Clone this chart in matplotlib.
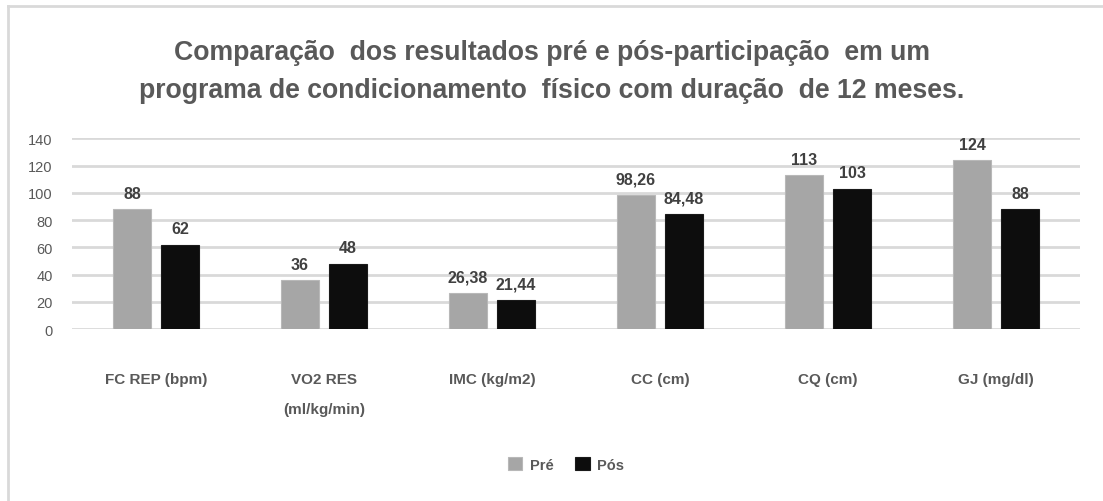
import numpy as np
import matplotlib
matplotlib.use('Agg')
import matplotlib.pyplot as plt
from matplotlib.lines import Line2D

plt.rcParams['font.family'] = ['Liberation Sans', 'DejaVu Sans']

categories = ['FC REP (bpm)', 'VO2 RES\n(ml/kg/min)', 'IMC (kg/m2)', 'CC (cm)', 'CQ (cm)', 'GJ (mg/dl)']
pre = [88, 36, 26.38, 98.26, 113, 124]
pos = [62, 48, 21.44, 84.48, 103, 88]
pre_labels = ['88', '36', '26,38', '98,26', '113', '124']
pos_labels = ['62', '48', '21,44', '84,48', '103', '88']
yticks = [0, 20, 40, 60, 80, 100, 120, 140]
title = ('Comparação  dos resultados pré e pós-participação  em um\n'
         'programa de condicionamento  físico com duração  de 12 meses.')

grey_txt = '#595959'
c_pre = '#a6a6a6'
c_pos = '#0d0d0d'

fig = plt.figure(figsize=(11.03, 5.02), dpi=100)
ax = fig.add_axes([0.0653, 0.3426, 0.9139, 0.3799])

x = np.arange(len(categories))
w = 0.228
off = 0.143
b1 = ax.bar(x - off, pre, w, color=c_pre, edgecolor='#b8b8b8', linewidth=0.8, label='Pré', zorder=3)
b2 = ax.bar(x + off, pos, w, color=c_pos, edgecolor='#1a1a1a', linewidth=0.8, label='Pós', zorder=3)

for bars, labs in ((b1, pre_labels), (b2, pos_labels)):
    for r, t in zip(bars, labs):
        ax.annotate(t, (r.get_x() + r.get_width() / 2, r.get_height()),
                    xytext=(0, 6), textcoords='offset points',
                    ha='center', va='bottom', fontsize=11.5, fontweight='bold', color='#404040')

ax.set_xlim(-0.5, len(categories) - 0.5)
ax.set_ylim(0, 140)
ax.set_yticks(yticks)
ax.tick_params(axis='y', length=0, pad=14, labelsize=10.5, labelcolor=grey_txt)
ax.set_xticks([])
ax.grid(axis='y', color='#d9d9d9', linewidth=2, zorder=0)
for s in ax.spines.values():
    s.set_visible(False)

# category labels, top aligned so wrapped label drops down
for xi, c in zip(x, categories):
    ax.text(xi, -31.5, c, ha='center', va='top', fontsize=11, fontweight='bold',
            color=grey_txt, linespacing=2.5)

fig.text(0.5, 0.8565, title, ha='center', va='center', fontsize=19.2, fontweight='bold',
         color=grey_txt, linespacing=1.56)

fig.legend(handles=[b1, b2], labels=['Pré', 'Pós'], loc='center', bbox_to_anchor=(0.513, 0.073),
           ncol=2, frameon=False, handlelength=1.0, handleheight=1.0, handletextpad=0.5,
           columnspacing=1.5, prop={'weight': 'bold', 'size': 10.5},
           labelcolor=grey_txt)

# chart border (left and top edges visible)
fig.add_artist(Line2D([0.0072, 0.0072], [0.0, 0.986], transform=fig.transFigure, color='#d9d9d9', linewidth=2))
fig.add_artist(Line2D([0.0072, 1.0], [0.986, 0.986], transform=fig.transFigure, color='#d9d9d9', linewidth=2))

fig.savefig('out.png', dpi=100, facecolor='white')
